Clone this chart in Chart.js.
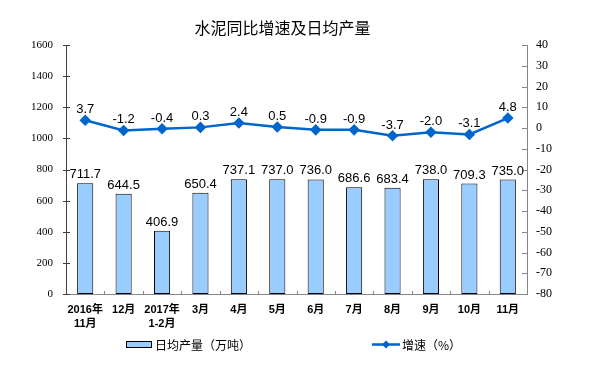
<!DOCTYPE html>
<html><head><meta charset="utf-8">
<script src="https://cdn.jsdelivr.net/npm/chart.js@4.4.1/dist/chart.umd.min.js"></script>
<style>html,body{margin:0;padding:0;background:#fff}#wrap{width:606px;height:367px;position:relative}</style>
</head><body><div id="wrap"><canvas id="c" width="606" height="367"></canvas></div>
<script>
const categories = [["2016年","11月"],"12月",["2017年","1-2月"],"3月","4月","5月","6月","7月","8月","9月","10月","11月"];
const dailyOutput = [711.7,644.5,406.9,650.4,737.1,737.0,736.0,686.6,683.4,738.0,709.3,735.0];
const growthRate = [3.7,-1.2,-0.4,0.3,2.4,0.5,-0.9,-0.9,-3.7,-2.0,-3.1,4.8];
const leftTicks = [0,200,400,600,800,1000,1200,1400,1600];
const rightTicks = [-80,-70,-60,-50,-40,-30,-20,-10,0,10,20,30,40];
const titleText = "水泥同比增速及日均产量";
const barLegend = "日均产量（万吨）";
const lineLegend = "增速（%）";

const CJK = '"Liberation Sans", "Noto Sans CJK SC", sans-serif';

const decor = {
  id: 'decor',
  afterDatasetsDraw(chart) {
    const ctx = chart.ctx;
    const ca = chart.chartArea;
    const x = chart.scales.x, y = chart.scales.y, y1 = chart.scales.y1;
    ctx.save();
    ctx.lineWidth = 1;
    ctx.strokeStyle = '#404040';
    leftTicks.forEach(v => {
      const py = Math.round(y.getPixelForValue(v)) + 0.5;
      ctx.beginPath(); ctx.moveTo(ca.left - 3, py); ctx.lineTo(ca.left + 4, py); ctx.stroke();
    });
    ctx.strokeStyle = '#868686';
    rightTicks.forEach(v => {
      const py = Math.round(y1.getPixelForValue(v)) + 0.5;
      ctx.beginPath(); ctx.moveTo(ca.right - 5, py); ctx.lineTo(ca.right, py); ctx.stroke();
    });
    for (let i = 1; i < categories.length; i++) {
      const px = Math.round((x.getPixelForValue(i - 1) + x.getPixelForValue(i)) / 2) + 0.5;
      ctx.beginPath(); ctx.moveTo(px, ca.bottom); ctx.lineTo(px, ca.bottom - 3); ctx.stroke();
    }
    ctx.fillStyle = '#000';
    ctx.textAlign = 'center';
    ctx.textBaseline = 'alphabetic';
    ctx.font = '13px "Liberation Sans", Arial, sans-serif';
    chart.getDatasetMeta(1).data.forEach((el, i) => {
      ctx.fillText(dailyOutput[i].toFixed(1), el.x, el.y - 5);
    });
    chart.getDatasetMeta(0).data.forEach((el, i) => {
      ctx.fillText(growthRate[i].toFixed(1), el.x, el.y - 7);
    });
    ctx.font = '16px "Noto Sans CJK SC", sans-serif';
    ctx.textBaseline = 'middle';
    ctx.fillText(titleText, 282.5, 27.5);
    ctx.fillStyle = '#99CCFF';
    ctx.fillRect(126, 341, 26, 7);
    ctx.strokeStyle = '#000';
    ctx.strokeRect(126.5, 341.5, 25, 6);
    ctx.fillStyle = '#000';
    ctx.textAlign = 'left';
    ctx.font = '12px "Noto Sans CJK SC", sans-serif';
    ctx.fillText(barLegend, 155, 345);
    ctx.strokeStyle = '#0066CC';
    ctx.lineWidth = 2.5;
    ctx.beginPath(); ctx.moveTo(372, 344.5); ctx.lineTo(400, 344.5); ctx.stroke();
    ctx.fillStyle = '#0066CC';
    ctx.beginPath(); ctx.moveTo(386, 340.5); ctx.lineTo(390, 344.5); ctx.lineTo(386, 348.5); ctx.lineTo(382, 344.5); ctx.closePath(); ctx.fill();
    ctx.fillStyle = '#000';
    ctx.fillText(lineLegend, 402, 345);
    ctx.restore();
  }
};

new Chart(document.getElementById('c'), {
  data: {
    labels: categories,
    datasets: [
      {
        type: 'line', label: lineLegend, data: growthRate, yAxisID: 'y1', order: 0,
        borderColor: '#0066CC', backgroundColor: '#0066CC', borderWidth: 2.5,
        pointStyle: 'rectRot', pointRadius: 4, pointHoverRadius: 4, tension: 0
      },
      {
        type: 'bar', label: barLegend, data: dailyOutput, yAxisID: 'y', order: 1,
        backgroundColor: '#99CCFF', borderColor: '#000', borderWidth: 1, borderSkipped: false,
        barPercentage: 0.42, categoryPercentage: 1
      }
    ]
  },
  options: {
    responsive: false, animation: false, devicePixelRatio: 1,
    layout: { padding: { top: 45, left: 0, right: 0, bottom: 0 } },
    plugins: { legend: { display: false }, title: { display: false }, tooltip: { enabled: false } },
    scales: {
      x: {
        grid: { display: false, drawTicks: false },
        border: { display: true, color: '#868686', width: 1 },
        ticks: { color: '#000', font: { family: CJK, size: 11, weight: 'bold', lineHeight: 1.3 }, padding: 9, maxRotation: 0, autoSkip: false },
        afterFit(s) { s.height = 73; }
      },
      y: {
        position: 'left', min: 0, max: 1600,
        afterBuildTicks(s) { s.ticks = leftTicks.map(v => ({ value: v })); },
        grid: { display: false, drawTicks: false },
        border: { display: true, color: '#404040', width: 1 },
        ticks: { color: '#000', font: { family: '"Liberation Serif", serif', size: 11 }, padding: 13, callback: v => String(v) },
        afterFit(s) { s.width = 66; }
      },
      y1: {
        position: 'right', min: -80, max: 40,
        afterBuildTicks(s) { s.ticks = rightTicks.map(v => ({ value: v })); },
        grid: { display: false, drawTicks: false },
        border: { display: true, color: '#868686', width: 1 },
        ticks: { color: '#000', font: { family: '"Liberation Serif", serif', size: 12 }, padding: 9, callback: v => String(v) },
        afterFit(s) { s.width = 79; }
      }
    }
  },
  plugins: [decor]
});
</script></body></html>
